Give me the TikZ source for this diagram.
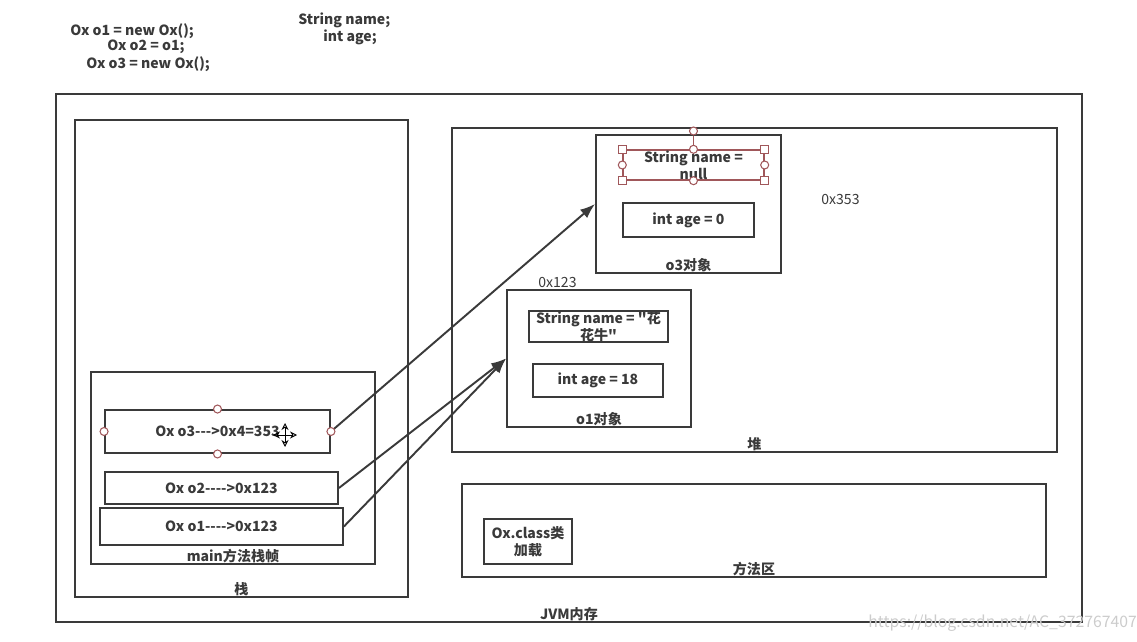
\documentclass[tikz,border=0pt]{standalone}
\usepackage{fontspec}
\setmainfont{Noto Sans CJK SC}[Ligatures=TeXOff]
\usetikzlibrary{arrows.meta}

\definecolor{ink}{HTML}{3A3A3A}
\definecolor{handle}{HTML}{A0575A}
\newcommand{\labfont}{\fontsize{8}{9.6}\selectfont}

\tikzstyle{region} = [draw=ink, line width=1.1pt, inner sep=0pt]
\tikzstyle{slot} = [draw=ink, line width=1.1pt, inner sep=0pt, align=center, font=\labfont\bfseries]
\tikzstyle{caption} = [anchor=south, inner sep=1pt, font=\labfont\bfseries]
\tikzstyle{code} = [anchor=west, inner sep=0pt, font=\labfont\bfseries]
\tikzstyle{addr} = [anchor=west, inner sep=0pt, font=\labfont]
\tikzstyle{ref} = [draw=ink, line width=1.1pt, -{Latex[length=0.3cm, width=0.22cm]}]
\tikzstyle{grip} = [circle, draw=handle, fill=white, inner sep=0pt, minimum size=0.16cm, line width=0.6pt]
\tikzstyle{corner} = [rectangle, draw=handle, fill=white, inner sep=0pt, minimum size=0.15cm, line width=0.6pt]

\begin{document}
\begin{tikzpicture}[x=0.02cm, y=-0.02cm, text=ink]
  \useasboundingbox (0,0) rectangle (1137,642);

  % source code on top
  \node (l1) at (70,31) [code] {Ox o1 = new Ox();};
  \node (l2) at (107,47) [code] {Ox o2 = o1;};
  \node (l3) at (86,64) [code] {Ox o3 = new Ox();};
  \node (f1) at (298,20) [code] {String name;};
  \node (f2) at (323,37) [code] {int age;};

  % memory areas
  \node (jvm) at (569,358) [region, minimum width=20.52cm, minimum height=10.56cm] {};
  \node (stack) at (241.5,358.5) [region, minimum width=6.66cm, minimum height=9.54cm] {};
  \node (frame) at (233,468) [region, minimum width=5.68cm, minimum height=3.84cm] {};
  \node (heap) at (754.5,290) [region, minimum width=12.1cm, minimum height=6.48cm] {};
  \node (method) at (754,530.5) [region, minimum width=11.68cm, minimum height=1.86cm] {};

  \node at (jvm.south) [caption] {JVM内存};
  \node at (stack.south) [caption] {栈};
  \node at (frame.south) [caption] {main方法栈帧};
  \node at (heap.south) [caption] {堆};
  \node at (method.south) [caption] {方法区};

  % references in the stack frame
  \node (r3) at (217.5,431.5) [slot, minimum width=4.5cm, minimum height=0.86cm] {Ox o3--->0x4=353};
  \node (r2) at (221.5,488) [slot, minimum width=4.66cm, minimum height=0.64cm] {Ox o2---->0x123};
  \node (r1) at (221.5,526.5) [slot, minimum width=4.86cm, minimum height=0.74cm] {Ox o1---->0x123};

  % objects in the heap
  \node (o3) at (688.5,204) [region, minimum width=3.7cm, minimum height=2.76cm] {};
  \node at (o3.south) [caption] {o3对象};
  \node (o3name) at (693.5,165) [slot, draw=handle, line width=0.8pt, minimum width=2.82cm, minimum height=0.6cm] {String name =\\null};
  \node (o3age) at (688.5,220) [slot, minimum width=2.62cm, minimum height=0.68cm] {int age = 0};
  \node (a3) at (821,199) [addr] {0x353};

  \node (o1) at (599,358.5) [region, minimum width=3.68cm, minimum height=2.74cm] {};
  \node at (o1.south) [caption] {o1对象};
  \node (o1name) at (598.5,326.5) [slot, minimum width=2.78cm, minimum height=0.58cm] {String name = "花\\花牛"};
  \node (o1age) at (598,380.5) [slot, minimum width=2.6cm, minimum height=0.66cm] {int age = 18};
  \node (a1) at (538,282) [addr] {0x123};

  % method area
  \node (cls) at (528,541.5) [slot, minimum width=1.76cm, minimum height=0.9cm] {Ox.class类\\加载};

  \draw [ref] (r3.east) to (o3.west);
  \draw [ref] (r2.east) to (o1.west);
  \draw [ref] (r1.east) to (o1.west);

  % selection handles
  \node (g1) at (r3.north) [grip] {};
  \node (g2) at (r3.south) [grip] {};
  \node (g3) at (r3.west) [grip] {};
  \node (g4) at (r3.east) [grip] {};
  \node (rot) at (693.5,131) [grip] {};
  \draw [handle, line width=0.6pt] (rot) -- (o3name.north);
  \node (h1) at (o3name.north west) [corner] {};
  \node (h2) at (o3name.north east) [corner] {};
  \node (h3) at (o3name.south west) [corner] {};
  \node (h4) at (o3name.south east) [corner] {};
  \node (h5) at (o3name.north) [grip] {};
  \node (h6) at (o3name.south) [grip] {};
  \node (h7) at (o3name.west) [grip] {};
  \node (h8) at (o3name.east) [grip] {};

  % move cursor
  \draw [black, line width=0.5pt, {Stealth[open, length=0.14cm, width=0.14cm]}-{Stealth[open, length=0.14cm, width=0.14cm]}] (273,435) -- (297,435);
  \draw [black, line width=0.5pt, {Stealth[open, length=0.14cm, width=0.14cm]}-{Stealth[open, length=0.14cm, width=0.14cm]}] (285,423) -- (285,447);

  % watermark
  \node (wm) at (868,623) [anchor=west, inner sep=0pt, text=gray!40, font=\fontsize{9}{10}\selectfont] {https://blog.csdn.net/AC\_372767407};
\end{tikzpicture}
\end{document}
